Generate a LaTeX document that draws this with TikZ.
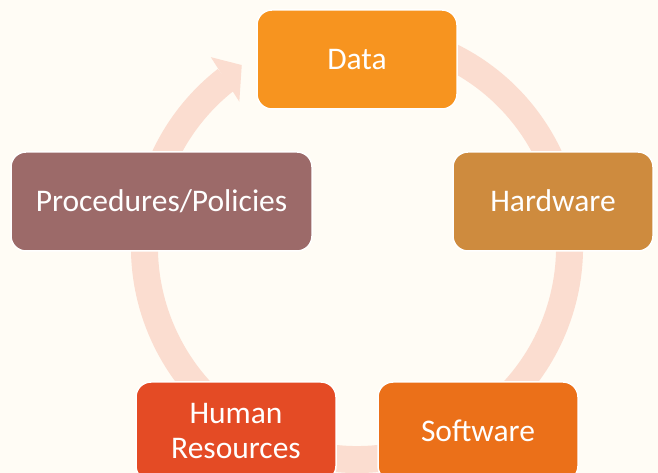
\documentclass[tikz,border=0pt]{standalone}
\usepackage{fontspec}
\setmainfont{Carlito}
\definecolor{bgC}{HTML}{FFFCF5}
\definecolor{ringC}{HTML}{FBDDD0}
\definecolor{dataC}{HTML}{F7941F}
\definecolor{hardC}{HTML}{CE8B3E}
\definecolor{procC}{HTML}{9C6A69}
\definecolor{humC}{HTML}{E44B25}
\definecolor{softC}{HTML}{EB7019}
\begin{document}
\begin{tikzpicture}[x=1pt,y=1pt,
  box/.style={draw=white, line width=1.5pt, rounded corners=15pt,
    minimum height=99pt, inner sep=0pt, text=white,
    font=\fontsize{31.5}{35}\selectfont, align=center},
  onel/.style={text height=20.3pt, text depth=0pt},
  ringline/.style={draw=ringC, line width=27pt},
  ringhead/.style={fill=ringC}]
\useasboundingbox (0,0) rectangle (658,473);
\clip (0,0) rectangle (658,473);
\fill[bgC] (0,0) rectangle (658,473);
\coordinate (c) at (357,226);
\draw[ringline] ([shift={(70:212.5)}]c) arc[start angle=70, end angle=-232, radius=212.5];
\fill[ringhead] ([shift={(127.6:239.6)}]c) -- ([shift={(122.35:215.4)}]c) -- ([shift={(129:187)}]c) -- cycle;
\node[box, onel, fill=dataC, minimum width=200pt] (data) at (357,413.5) {Data};
\node[box, onel, fill=hardC, minimum width=200pt] (hard) at (553,271.5) {Hardware};
\node[box, onel, fill=procC, minimum width=301pt] (proc) at (161.5,271.5) {Procedures/Policies};
\node[box, fill=humC, minimum width=200pt] (hum) at (236,41.5) {Human\\Resources};
\node[box, onel, fill=softC, minimum width=200pt] (soft) at (478,41.5) {Software};
\end{tikzpicture}
\end{document}
